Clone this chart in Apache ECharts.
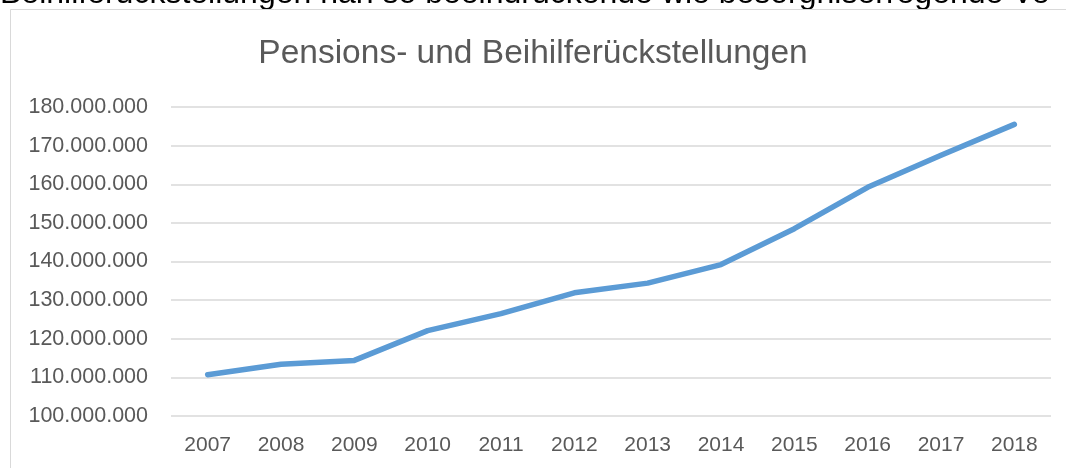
<!DOCTYPE html>
<html>
<head>
<meta charset="utf-8">
<style>
  html, body { margin: 0; padding: 0; background: #fff; }
  #chart { width: 1066px; height: 468px; }
</style>
<script src="https://cdn.jsdelivr.net/npm/echarts@6/dist/echarts.min.js"></script>
</head>
<body>
<div id="chart"></div>
<script>
// Jahre und Rückstellungen (in Euro)
var years = ['2007', '2008', '2009', '2010', '2011', '2012', '2013', '2014', '2015', '2016', '2017', '2018'];
var provisions = [110700000, 113400000, 114400000, 122100000, 126500000, 131900000, 134400000, 139200000, 148500000, 159200000, 167500000, 175500000];
var yTicks = [100000000, 110000000, 120000000, 130000000, 140000000, 150000000, 160000000, 170000000, 180000000];

var chart = echarts.init(document.getElementById('chart'));

function formatDE(v) {
    return String(v).replace(/\B(?=(\d{3})+(?!\d))/g, '.');
}

var option = {
    animation: false,
    backgroundColor: '#fff',
    title: {
        text: 'Pensions- und Beihilferückstellungen',
        left: 'center',
        top: 32,
        textStyle: {
            fontFamily: 'Liberation Sans',
            fontSize: 33.5,
            fontWeight: 'normal',
            color: '#595959'
        }
    },
    graphic: [
        {
            // abgeschnittene Textzeile des Dokuments oberhalb des Diagramms
            type: 'text',
            left: 0,
            top: -22,
            style: {
                text: 'Beihilferückstellungen han so beeindruckende wie besorgniserregende Ve',
                fontFamily: 'Liberation Sans',
                fontSize: 32,
                fill: '#000'
            }
        },
        {
            type: 'rect',
            shape: { x: 10.5, y: 9.5, width: 1200, height: 600 },
            style: { fill: 'none', stroke: '#d9d9d9', lineWidth: 1 },
            silent: true
        }
    ],
    grid: {
        left: 171,
        right: 15,
        top: 107,
        bottom: 52,
        containLabel: false
    },
    xAxis: {
        type: 'category',
        data: years,
        boundaryGap: true,
        axisLine: { show: false },
        axisTick: { show: false },
        axisLabel: {
            margin: 19,
            fontFamily: 'Liberation Sans',
            fontSize: 21,
            color: '#595959'
        }
    },
    yAxis: {
        type: 'value',
        min: yTicks[0],
        max: yTicks[yTicks.length - 1],
        interval: 10000000,
        axisLine: { show: false },
        axisTick: { show: false },
        axisLabel: {
            margin: 23,
            fontFamily: 'Liberation Sans',
            fontSize: 21.5,
            color: '#595959',
            formatter: formatDE
        },
        splitLine: { lineStyle: { color: '#d9d9d9', width: 1.5 } }
    },
    series: [{
        type: 'line',
        data: provisions,
        showSymbol: false,
        symbol: 'none',
        lineStyle: { color: '#5b9bd5', width: 5.5, cap: 'round', join: 'round' }
    }]
};

chart.setOption(option);
</script>
</body>
</html>
